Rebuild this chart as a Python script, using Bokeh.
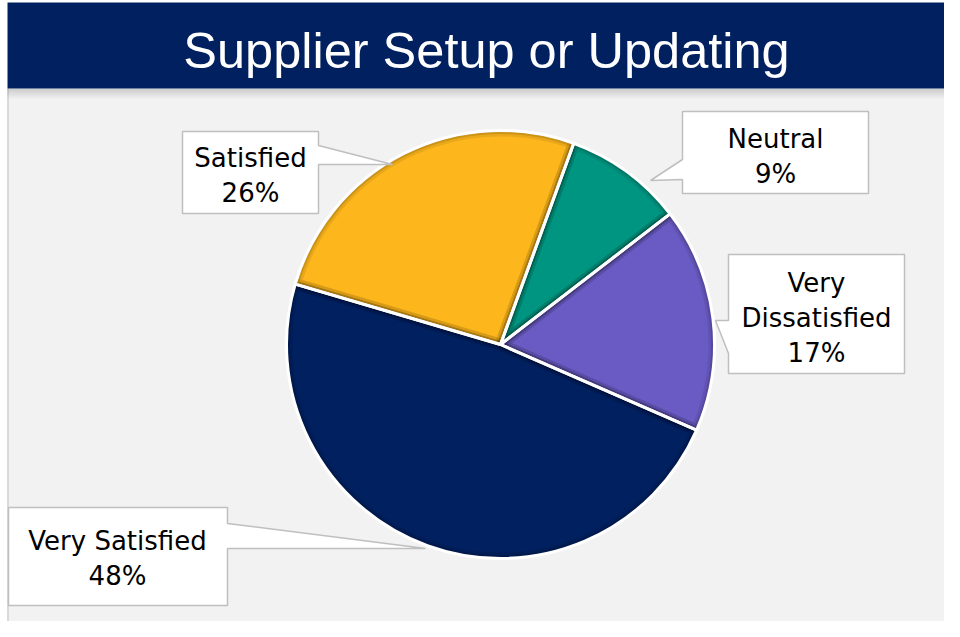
import math
from bokeh.plotting import figure
from bokeh.models import Range1d
from bokeh.embed import file_html
from bokeh.resources import INLINE
from bokeh.core.properties import value

# ---- data ----
categories = ["Very Satisfied", "Satisfied", "Neutral", "Very Dissatisfied"]
percents = [48, 26, 9, 17]
colors = ["#002060", "#FDB71C", "#009580", "#6A5BC4"]
label_lines = [["Very Satisfied"], ["Satisfied"], ["Neutral"], ["Very", "Dissatisfied"]]
title_text = "Supplier Setup or Updating"

# ---- layout (reference pixel coordinates, y measured downward) ----
W, H = 944, 621
X0, Y0 = 0, 0          # reference pixel at the figure's top-left corner
REF_H = 637


def Y(yr):
    return REF_H - yr


CX, CY, R = 500, 344, 214
FIRST_START_DEG = -23.6   # math angle where the first slice starts, drawn clockwise
TITLE_SHIFT = 15          # compensation for renderer baseline placement
LABEL_SHIFT = 10

p = figure(width=W, height=H, x_range=Range1d(X0, X0 + W), y_range=Range1d(REF_H - (Y0 + H), REF_H - Y0),
           output_backend="svg", toolbar_location=None, min_border=0)
p.axis.visible = False
p.grid.visible = False
p.outline_line_color = None
p.background_fill_color = "white"
p.border_fill_color = "white"

# panel frame
p.quad(left=7, right=958, top=Y(88), bottom=Y(632), fill_color="#F2F2F2", line_color=None)
p.segment(x0=[7.5], y0=[Y(88)], x1=[7.5], y1=[Y(632)], line_color="#D0D0D0", line_width=1.5)

# title band + shadow
for i in range(10):
    p.quad(left=7, right=960, top=Y(88 + i), bottom=Y(89 + i), fill_color="#000000",
           fill_alpha=0.16 * (1 - i / 10), line_color=None)
p.quad(left=7, right=960, top=Y(2), bottom=Y(88), fill_color="#002060", line_color=None)
p.text(x=[486], y=[Y(65 - TITLE_SHIFT)], text=[title_text], text_color="white",
       text_font=value("Liberation Sans"), text_font_size="50.5px", text_align="center",
       text_baseline="alphabetic")

# pie wedges
starts, ends = [], []
a = math.radians(FIRST_START_DEG)
for v in percents:
    sweep = v / sum(percents) * 2 * math.pi
    starts.append(a)
    ends.append(a - sweep)
    a -= sweep

src = dict(x=[CX] * len(percents), y=[Y(CY)] * len(percents), s=starts, e=ends, c=colors)
p.wedge(x="x", y="y", radius=R, start_angle="s", end_angle="e", direction="clock",
        fill_color="c", line_color=None, source=src)
# inner shadow
for lw, al in [(12, 0.08), (7, 0.12), (3, 0.16)]:
    p.wedge(x="x", y="y", radius=R, start_angle="s", end_angle="e", direction="clock",
            fill_color=None, line_color="black", line_alpha=al, line_width=lw, source=src)
# erase outer part of shadow stroke
p.annulus(x=[CX], y=[Y(CY)], inner_radius=R, outer_radius=R + 9, fill_color="#F2F2F2", line_color=None)
# white separators and outer rim
p.wedge(x="x", y="y", radius=R, start_angle="s", end_angle="e", direction="clock",
        fill_color=None, line_color="white", line_width=3, source=src)

# callouts (box + pointer), in reference pixel coordinates
callouts = {
    "Very Satisfied": [(8, 507), (227, 507), (227, 523), (425, 548), (227, 548), (227, 605), (8, 605)],
    "Satisfied": [(182, 131), (318, 131), (318, 145), (392, 164), (318, 164), (318, 213), (182, 213)],
    "Neutral": [(682, 111), (868, 111), (868, 193), (682, 193), (682, 179), (650, 180), (682, 159)],
    "Very Dissatisfied": [(728, 254), (904, 254), (904, 373), (728, 373), (728, 353), (715, 320), (728, 320)],
}
text_pos = {  # center x, first baseline
    "Very Satisfied": (117, 550),
    "Satisfied": (250, 167),
    "Neutral": (775, 148),
    "Very Dissatisfied": (816, 292),
}
LINE_STEP = 35

xs = [[pt[0] for pt in callouts[c]] for c in categories]
ys = [[Y(pt[1]) for pt in callouts[c]] for c in categories]
p.patches(xs=xs, ys=ys, fill_color="white", line_color="#BFBFBF", line_width=1.5)

tx, ty, tt = [], [], []
for cat, pct, lines in zip(categories, percents, label_lines):
    cx0, by0 = text_pos[cat]
    for k, ln in enumerate(lines + [f"{pct}%"]):
        tx.append(cx0)
        ty.append(Y(by0 + k * LINE_STEP - LABEL_SHIFT))
        tt.append(ln)
p.text(x=tx, y=ty, text=tt, text_color="#000000", text_font=value("DejaVu Sans"),
       text_font_size="26px", text_align="center", text_baseline="alphabetic")

open("out.html", "w").write(file_html(p, INLINE))
